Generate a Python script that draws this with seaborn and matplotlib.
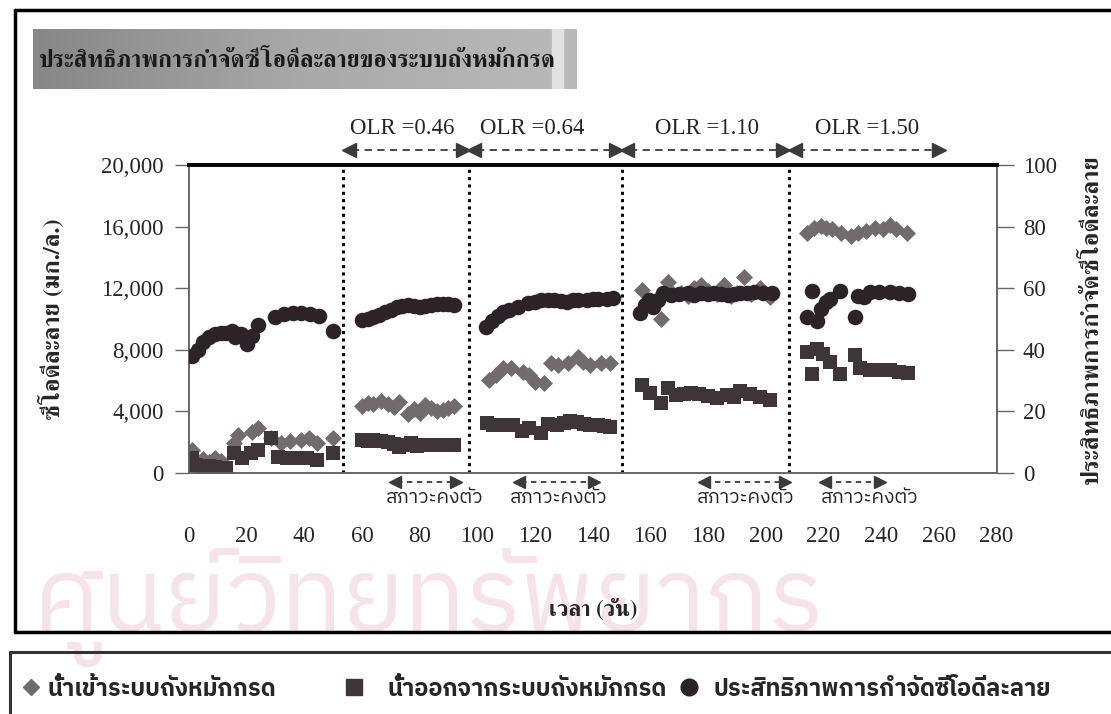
import numpy as np
import pandas as pd
import matplotlib
matplotlib.use("Agg")
import matplotlib.pyplot as plt
import matplotlib.transforms as mtransforms
from matplotlib.lines import Line2D
from matplotlib.colors import LinearSegmentedColormap
from matplotlib import font_manager
from matplotlib.ft2font import FT2Font
import seaborn as sns

# ---- data ----
influent_day = [1, 3, 5, 7, 9, 11, 15.5, 17, 22, 24, 28.5, 32, 35, 39, 41.5, 44.5, 50,
                60, 62, 64, 66.5, 69, 71, 73, 76, 78, 80, 82, 84, 86, 88, 90, 92,
                104, 106.4, 109, 111.5, 116, 118, 120, 123, 125.4, 128, 131.3, 134.8, 136.8, 139, 142.7, 146,
                157, 160, 163.5, 166, 168, 170.5, 173, 175, 177.5, 180, 183, 185.5, 188, 190, 192.5, 195, 198, 201.5,
                214.3, 216.6, 219, 221, 222.8, 225.9, 229.7, 232, 234.9, 237.7, 240.8, 242.9, 245.3, 248.8]
influent_cod = [1500, 700, 900, 700, 1000, 800, 1950, 2450, 2650, 2900, 2250, 1950, 2050, 2150, 2250, 1950, 2250,
                4350, 4550, 4450, 4650, 4450, 4300, 4600, 3800, 4150, 3900, 4400, 4200, 4000, 4100, 4200, 4350,
                6050, 6350, 6800, 6800, 6550, 6350, 5900, 5850, 7150, 7000, 7150, 7500, 7200, 7000, 7150, 7150,
                11900, 11000, 10000, 12400, 11600, 11700, 11500, 12000, 12200, 11800, 11600, 12200, 11500, 11700,
                12700, 11600, 12000, 11400,
                15600, 15900, 16050, 15900, 15850, 15550, 15400, 15600, 15700, 15900, 15850, 16100, 15850, 15600]

effluent_day = [1, 2.5, 5, 7, 9, 11, 13, 15.5, 18.5, 21.5, 24, 28.5, 31, 34, 37, 41, 44.5, 50,
                60, 62, 64, 66.5, 69, 71, 73, 75, 77, 79, 81, 83, 85, 87, 89, 92,
                103.5, 105.5, 107.5, 110, 112.5, 115.5, 118, 122, 124.5, 127.5, 130, 132, 134.5, 137, 139, 142, 144, 146,
                157, 160, 163.5, 166, 169, 171.5, 174, 177, 180, 183, 186.5, 189, 191, 194.5, 198, 201.5,
                214.3, 216, 217.6, 220, 222.3, 225.8, 231, 232.7, 236, 239.4, 242.9, 246.3, 249.3]
effluent_cod = [1000, 500, 350, 450, 400, 350, 350, 1300, 1000, 1300, 1500, 2250, 1050, 1000, 1000, 1000, 850, 1300,
                2150, 2100, 2150, 2050, 2000, 1900, 1700, 1800, 1950, 1750, 1850, 1850, 1800, 1850, 1850, 1850,
                3250, 3150, 3150, 3100, 3150, 2700, 2900, 2600, 3200, 3150, 3250, 3400, 3300, 3200, 3100, 3100, 3050, 3000,
                5700, 5200, 4550, 5500, 5050, 5150, 5200, 5150, 5000, 4850, 5050, 4950, 5350, 5150, 4950, 4750,
                7850, 6450, 8050, 7750, 7200, 6450, 7650, 6800, 6700, 6700, 6700, 6550, 6500]

eff_day = [1, 3, 5, 7, 9, 11, 13, 15, 16, 18, 20, 22, 24, 30, 33, 36, 39, 42, 45, 50,
           60, 62, 64, 66, 68, 70, 72, 74, 76, 78, 80, 82, 84, 86, 88, 90, 92,
           103, 105, 107, 109, 111, 114, 117.5, 120, 122, 124.5, 126.5, 129, 131, 133, 135, 138, 140, 142, 145, 147,
           156.5, 158, 159.5, 161, 162.5, 164.5, 167, 170, 173, 175, 177.5, 180, 182, 184.5, 187, 189, 191, 193.5,
           196, 199, 202,
           214.3, 216, 217.6, 219.3, 221, 222.3, 225.8, 231, 232, 234.2, 236, 239.4, 242.9, 246.3, 249.3]
eff_pct = [38, 40, 42.5, 44, 45, 45.5, 45.5, 46, 44, 45, 42, 44.5, 48, 50.5, 51.5, 52, 52, 51.5, 51, 46,
           49.8, 50, 50.5, 51.2, 52.2, 53, 53.8, 54.2, 54.5, 54.3, 54, 54.3, 54.6, 54.8, 54.8, 55, 54.5,
           47.4, 49.5, 51, 52.3, 53, 53.9, 55.2, 55.6, 56.2, 56, 56.2, 55.8, 55.5, 56, 56.2, 56.2, 56.4, 56.5, 56.5, 56.8,
           52, 54.5, 56, 54, 56.2, 58.4, 57.8, 58, 58.4, 57.8, 58.4, 58.2, 58.4, 58, 57.8, 58.2, 58.4, 58.5,
           58.8, 58.4, 58.4,
           50.6, 59.2, 49.5, 53.2, 55.5, 56.5, 59.2, 50.6, 57.6, 57.1, 58.8, 58.8, 58.8, 58.4, 58.1]

phase_bounds = [53.5, 97, 150, 208, 262]
olr_labels = ["OLR =0.46", "OLR =0.64", "OLR =1.10", "OLR =1.50"]
olr_label_x = [74, 119, 179.5, 235]
steady_ranges = [(70, 94), (113, 142), (177, 208), (219, 241)]
steady_label_x = [85, 128, 193, 236]
steady_text = "สภาวะคงตัว"

title_text = "ประสิทธิภาพการกำจัดซีโอดีละลายของระบบถังหมักกรด"
left_label = "ซีโอดีละลาย (มก./ล.)"
right_label = "ประสิทธิภาพการกำจัดซีโอดีละลาย"
x_label = "เวลา (วัน)"
legend_labels = ["น้ำเข้าระบบถังหมักกรด", "น้ำออกจากระบบถังหมักกรด", "ประสิทธิภาพการกำจัดซีโอดีละลาย"]
watermark = "ศูนย์วิทยทรัพยากร"

# ---- fonts: look for something that can draw Thai ----
thai_fonts = []
for f in font_manager.fontManager.ttflist:
    try:
        if 0x0E01 in FT2Font(f.fname).get_charmap():
            thai_fonts.append(f.name)
    except Exception:
        pass
thai_serif = next((n for n in thai_fonts if "Serif" in n), thai_fonts[0] if thai_fonts else "DejaVu Sans")
thai_sans = next((n for n in thai_fonts if "Sans" in n and "Looped" not in n), thai_serif)

sns.set_theme(style="white")
plt.rcParams["font.family"] = ["Liberation Serif", thai_serif, "DejaVu Sans"]
serif_thai = [thai_serif, "Liberation Serif", "DejaVu Sans"]
sans_thai = [thai_sans, "DejaVu Sans"]

c_in, c_out, c_eff = "#716b6e", "#3e3539", "#2b2327"

fig = plt.figure(figsize=(11.11, 7.14), dpi=100)
ax = fig.add_axes([0.170, 0.3375, 0.727, 0.4315])

df_in = pd.DataFrame({"day": influent_day, "cod": influent_cod})
df_out = pd.DataFrame({"day": effluent_day, "cod": effluent_cod})
df_eff = pd.DataFrame({"day": eff_day, "pct": eff_pct})

sns.scatterplot(data=df_in, x="day", y="cod", marker="D", s=75, color=c_in, edgecolor=c_in,
                linewidth=0, ax=ax, zorder=3)
sns.scatterplot(data=df_out, x="day", y="cod", marker="s", s=90, color=c_out, edgecolor=c_out,
                linewidth=0, ax=ax, zorder=3)
ax2 = ax.twinx()
sns.scatterplot(data=df_eff, x="day", y="pct", marker="o", s=125, color=c_eff, edgecolor=c_eff,
                linewidth=0, ax=ax2, zorder=3)

ax.set_xlim(0, 280)
ax.set_ylim(0, 20000)
ax2.set_ylim(0, 100)
ax.set_xticks(np.arange(0, 281, 20))
ax.set_yticks(np.arange(0, 20001, 4000))
ax.set_yticklabels([f"{v:,}" for v in range(0, 20001, 4000)])
ax2.set_yticks(np.arange(0, 101, 20))

for a in (ax, ax2):
    for s in a.spines.values():
        s.set_color("#666666")
        s.set_linewidth(1.2)
    a.spines["top"].set_color("black")
    a.spines["top"].set_linewidth(2.6)
ax.tick_params(axis="y", direction="out", length=10, width=1, color="#666", labelsize=16.5, pad=8)
ax.tick_params(axis="x", direction="out", length=7, width=1, color="#888", labelsize=16.5, pad=31)
ax2.tick_params(axis="y", direction="out", length=12, width=1, color="#666", labelsize=16.5, pad=7)

ax.set_xlabel(x_label, fontsize=16, fontweight="bold", family=serif_thai)
ax.xaxis.set_label_coords(0.5, -0.405)
ax.set_ylabel(left_label, fontsize=17.5, fontweight="bold", family=serif_thai)
ax.yaxis.set_label_coords(-0.154, 0.5)
ax2.set_ylabel(right_label, fontsize=17.5, fontweight="bold", family=serif_thai, rotation=90, va="top")
ax2.yaxis.set_label_coords(1.104, 0.5)

# phase separators
for xb in phase_bounds[:-1]:
    ax.axvline(xb, color="black", linestyle=(0, (1, 1.4)), linewidth=2.2, zorder=2)

trans = mtransforms.blended_transform_factory(ax.transData, ax.transAxes)
arrow_col = "#3a3a3a"
for i, lab in enumerate(olr_labels):
    x0, x1 = phase_bounds[i], phase_bounds[i + 1]
    ax.plot([x0 + 3, x1 - 3], [1.049, 1.049], transform=trans, clip_on=False, color=arrow_col,
            linestyle=(0, (4, 3)), linewidth=1.3)
    ax.plot([x0 + 2], [1.049], marker="<", markersize=10, color=arrow_col, transform=trans, clip_on=False)
    ax.plot([x1 - 2], [1.049], marker=">", markersize=10, color=arrow_col, transform=trans, clip_on=False)
    ax.text(olr_label_x[i], 1.118, lab, transform=trans, ha="center", va="center", fontsize=16.5)

for (x0, x1), xl in zip(steady_ranges, steady_label_x):
    ax.plot([x0 + 2, x1 - 2], [-0.030, -0.030], transform=trans, clip_on=False, color=arrow_col,
            linestyle=(0, (3, 2.5)), linewidth=1.3)
    ax.plot([x0 + 1.5], [-0.030], marker="<", markersize=9, color=arrow_col, transform=trans, clip_on=False)
    ax.plot([x1 - 1.5], [-0.030], marker=">", markersize=9, color=arrow_col, transform=trans, clip_on=False)
    ax.text(xl, -0.082, steady_text, transform=trans, ha="center", va="center", fontsize=14,
            family=sans_thai)

# title box with grey gradient
tax = fig.add_axes([0.0297, 0.876, 0.489, 0.084])
box_cmap = LinearSegmentedColormap.from_list("box", ["#878787", "#a9a9a9", "#bababa"])
grad = np.linspace(0, 1, 300)
tax.imshow(grad[np.newaxis, :], aspect="auto", cmap=box_cmap, extent=[0, 1, 0, 1])
tax.axvspan(0.955, 0.975, color="#e2e2e2")
tax.set_xlim(0, 1)
tax.set_axis_off()
fig.text(0.035, 0.914, title_text, ha="left", va="center", fontsize=17, fontweight="bold",
         color="#1a1a1a", family=serif_thai)

# outer frames
fig.add_artist(Line2D([0.0135, 1.0], [0.986, 0.986], color="black", lw=2.5))
fig.add_artist(Line2D([0.0135, 0.0135], [0.115, 0.986], color="black", lw=2.5))
fig.add_artist(Line2D([0.0135, 1.0], [0.115, 0.115], color="black", lw=2.5))
fig.add_artist(Line2D([0.009, 1.0], [0.087, 0.087], color="#333333", lw=2.2))
fig.add_artist(Line2D([0.009, 0.009], [0.0, 0.087], color="#333333", lw=2.2))

# faint watermark
fig.text(0.03, 0.232, watermark, fontsize=74, color="#f6e3e9", family=sans_thai, ha="left",
         va="top", zorder=-5)

# legend: one entry per block so each sits where the reference has it
handles = [Line2D([], [], marker="D", color=c_in, linestyle="none", markersize=8),
           Line2D([], [], marker="s", color=c_out, linestyle="none", markersize=11),
           Line2D([], [], marker="o", color=c_eff, linestyle="none", markersize=12)]
leg_left_px = [22, 345, 680]
leg_pad = [0.3, 1.0, 0.6]
for h, lab, lx, tp in zip(handles, legend_labels, leg_left_px, leg_pad):
    fig.legend([h], [lab], loc="center left", bbox_to_anchor=(lx / 1111, 0.035),
               frameon=False, borderpad=0, borderaxespad=0, handlelength=0.8, handletextpad=tp,
               prop={"family": sans_thai, "size": 17, "weight": "bold"})

fig.savefig("out.png", dpi=100)
